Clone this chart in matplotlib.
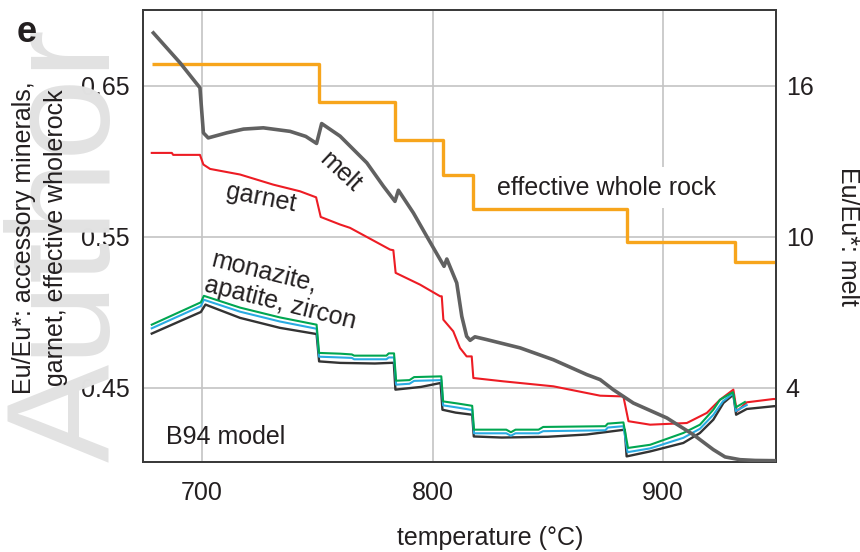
import matplotlib
matplotlib.use("Agg")
import matplotlib.pyplot as plt

plt.rcParams['font.family'] = ['Liberation Sans', 'DejaVu Sans']

TXT = '#231f20'
FS = 18

# effective whole rock (left axis), step values
rock_T = [678.4, 750.8, 783.7, 804.4, 817.7, 884.2, 931.2, 949.0]
rock_v = [0.6644, 0.6394, 0.6139, 0.5906, 0.5683, 0.5465, 0.5332, 0.5332]

# melt (right axis)
melt_T = [678.9, 690.5, 699.1, 700.6, 702.7, 710.7, 718.0, 726.6, 738.2, 745.0,
          749.7, 751.9, 759.9, 771.5, 778.7, 783.7, 785.2, 791.7, 797.5, 803.3,
          805.0, 806.2, 810.5, 812.7, 814.8, 816.3, 818.4, 823.5, 838.0, 852.4,
          866.9, 872.7, 878.4, 887.1, 901.6, 913.2, 921.8, 926.9, 933.4, 940.0, 949.0]
melt_v = [18.09, 16.90, 15.91, 14.12, 13.92, 14.12, 14.27, 14.32, 14.18, 13.98,
          13.70, 14.49, 13.99, 12.93, 12.00, 11.40, 11.84, 10.94, 10.01, 9.09,
          8.82, 9.11, 8.16, 6.83, 6.04, 5.88, 6.02, 5.91, 5.58, 5.11,
          4.52, 4.32, 3.92, 3.39, 2.80, 2.13, 1.54, 1.25, 1.14, 1.11, 1.10]

# garnet
grt_T = [678.2, 686.9, 687.5, 699.1, 700.6, 703.5, 716.5, 730.9, 742.5, 749.5,
         751.5, 759.9, 764.2, 781.6, 783.0, 784.0, 794.6, 803.3, 804.0, 804.7,
         809.0, 811.9, 814.8, 817.0, 817.7, 830.7, 852.4, 872.7, 882.8, 885.0,
         894.4, 910.3, 919.0, 924.7, 930.5, 932.0, 936.3, 947.9, 949.0]
grt_v = [0.6054, 0.6054, 0.6041, 0.6041, 0.5977, 0.5948, 0.5911, 0.5844, 0.5800, 0.5760,
         0.5630, 0.5580, 0.5558, 0.5414, 0.5410, 0.5260, 0.5182, 0.5105, 0.5105, 0.4950,
         0.4873, 0.4763, 0.4707, 0.4707, 0.4564, 0.4542, 0.4509, 0.4447, 0.4442, 0.4278,
         0.4255, 0.4266, 0.4333, 0.4420, 0.4487, 0.4343, 0.4403, 0.4425, 0.4425]

# monazite (green)
mnz_T = [678.2, 699.5, 700.8, 716.5, 733.8, 749.7, 750.8, 760.0, 765.0, 766.0,
         780.0, 781.0, 783.3, 784.2, 790.0, 792.0, 803.8, 804.6, 811.0, 817.2,
         818.0, 832.0, 834.0, 836.0, 846.0, 848.0, 875.0, 876.0, 882.8, 884.8,
         894.4, 908.8, 916.0, 921.8, 924.7, 930.3, 931.6, 935.5]
mnz_v = [0.4917, 0.5065, 0.5108, 0.5030, 0.4965, 0.4917, 0.4730, 0.4725, 0.4720, 0.4712,
         0.4712, 0.4727, 0.4727, 0.4546, 0.4550, 0.4570, 0.4575, 0.4409, 0.4395, 0.4380,
         0.4222, 0.4222, 0.4205, 0.4222, 0.4222, 0.4240, 0.4245, 0.4262, 0.4270, 0.4101,
         0.4122, 0.4200, 0.4255, 0.4354, 0.4420, 0.4470, 0.4370, 0.4405]

# apatite (blue)
ap_T = [678.2, 699.5, 700.8, 716.5, 733.8, 749.7, 750.8, 760.0, 765.0, 766.0,
        780.0, 781.0, 783.3, 784.2, 790.0, 792.0, 803.8, 804.6, 811.0, 817.2,
        818.0, 832.0, 834.0, 836.0, 846.0, 848.0, 875.0, 876.0, 882.8, 884.6,
        894.4, 908.8, 916.0, 921.8, 926.0, 930.4, 931.6, 936.3]
ap_v = [0.4893, 0.5040, 0.5082, 0.5003, 0.4938, 0.4890, 0.4705, 0.4700, 0.4697, 0.4688,
        0.4688, 0.4700, 0.4700, 0.4520, 0.4526, 0.4545, 0.4550, 0.4383, 0.4368, 0.4352,
        0.4198, 0.4198, 0.4182, 0.4198, 0.4198, 0.4212, 0.4218, 0.4236, 0.4245, 0.4073,
        0.4098, 0.4168, 0.4228, 0.4320, 0.4410, 0.4462, 0.4345, 0.4385]

# zircon (black)
zrn_T = [678.2, 699.5, 701.5, 716.5, 733.8, 749.7, 750.8, 760.0, 775.0, 783.2,
         783.9, 795.0, 803.5, 804.3, 810.0, 817.2, 817.9, 830.0, 850.0, 866.9,
         883.4, 884.2, 894.4, 908.8, 916.0, 921.8, 926.2, 930.5, 931.7, 936.3,
         947.9, 949.0]
zrn_v = [0.4858, 0.5001, 0.5050, 0.4962, 0.4896, 0.4855, 0.4674, 0.4664, 0.4660, 0.4665,
         0.4487, 0.4505, 0.4531, 0.4354, 0.4335, 0.4321, 0.4177, 0.4170, 0.4175, 0.4190,
         0.4222, 0.4045, 0.4078, 0.4134, 0.4200, 0.4288, 0.4399, 0.4454, 0.4321, 0.4359,
         0.4377, 0.4378]

fig = plt.figure(figsize=(8.6, 5.52), dpi=100)

# faint watermark on the left margin
fig.text(0.162, 0.163, 'Author', rotation=90, fontsize=106, color='#e2e2e2',
         ha='right', va='bottom', zorder=0)

ax = fig.add_axes([143 / 860, 90 / 552, 633 / 860, 452 / 552])
ax.set_xlim(674.4, 949.0)
ax.set_ylim(0.4008, 0.7)
ax.set_axisbelow(True)
ax.grid(color='#c4c4c4', linewidth=1.2)

ax.plot(rock_T, rock_v, drawstyle='steps-post', color='#f7a51c', lw=2.4,
        solid_capstyle='butt', zorder=3)
ax.plot(grt_T, grt_v, color='#ed1c24', lw=1.5, zorder=3)
ax.plot(zrn_T, zrn_v, color='#333333', lw=1.7, zorder=4)
ax.plot(ap_T, ap_v, color='#29abe2', lw=1.5, zorder=4)
ax.plot(mnz_T, mnz_v, color='#00a651', lw=1.5, zorder=4)

ax.set_xticks([700, 800, 900])
ax.set_yticks([0.45, 0.55, 0.65])
ax.set_yticklabels(['0.45', '0.55', '0.65'])
ax.tick_params(length=0, labelsize=FS, labelcolor=TXT)
ax.tick_params(axis='x', pad=14)
ax.tick_params(axis='y', pad=9.5)

ax.text(759.9, 0.593, 'melt', rotation=-43, fontsize=FS, color=TXT,
        ha='center', va='center', rotation_mode='anchor')
ax.text(725.5, 0.5755, 'garnet', rotation=-11, fontsize=FS, color=TXT,
        ha='center', va='center', rotation_mode='anchor')
ax.text(735.5, 0.5145, 'monazite,\napatite, zircon', rotation=-14, fontsize=FS,
        color=TXT, ha='center', va='center', multialignment='left',
        rotation_mode='anchor', linespacing=1.1)
# white box only hides the grid behind the label, lines stay on top
ax.text(875.3, 0.5825, 'effective whole rock', fontsize=FS, color=TXT,
        ha='center', va='center',
        bbox=dict(facecolor='white', edgecolor='none', pad=6), zorder=2)
ax.text(710.4, 0.4172, 'B94 model', fontsize=FS, color=TXT, ha='center', va='center')

ax2 = ax.twinx()
ax2.set_ylim(1.048, 19.0)
ax2.plot(melt_T, melt_v, color='#616161', lw=2.6, zorder=3)
ax2.set_yticks([4, 10, 16])
ax2.tick_params(length=0, labelsize=FS, labelcolor=TXT, pad=7)

for a in (ax, ax2):
    for s in a.spines.values():
        s.set_color('#3a3a3a')
        s.set_linewidth(1.3)

fig.text(490 / 860, 1 - 538 / 552, 'temperature (°C)', fontsize=FS, color=TXT,
         ha='center', va='center')
fig.text(40 / 860, 1 - 238 / 552, 'Eu/Eu*: accessory minerals,\ngarnet, effective wholerock',
         rotation=90, fontsize=FS, color=TXT, ha='center', va='center',
         multialignment='center', linespacing=1.4)
fig.text(848 / 860, 1 - 236 / 552, 'Eu/Eu*: melt', rotation=270, fontsize=FS, color=TXT,
         ha='center', va='center')
fig.text(27 / 860, 1 - 33 / 552, 'e', fontsize=26, fontweight='bold', color=TXT,
         ha='center', va='center')

fig.savefig('out.png', dpi=100)
